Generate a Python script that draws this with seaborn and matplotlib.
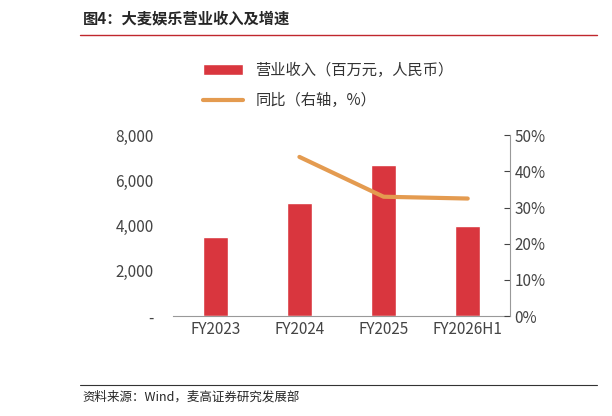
import matplotlib
matplotlib.use("Agg")
import matplotlib.pyplot as plt
import seaborn as sns
import pandas as pd
from matplotlib.ticker import FuncFormatter

sns.set_style("white")
plt.rcParams['font.family'] = ['Noto Sans CJK SC', 'DejaVu Sans']

categories = ["FY2023", "FY2024", "FY2025", "FY2026H1"]
revenue = [3500, 5000, 6700, 4000]
yoy_cats = ["FY2024", "FY2025", "FY2026H1"]
yoy = [44.0, 33.0, 32.5]

fig = plt.figure(figsize=(6.12, 4.16), dpi=100)
ax = fig.add_axes([0.283, 0.24, 0.55, 0.435])
df = pd.DataFrame({"cat": categories, "rev": revenue})
sns.barplot(data=df, x="cat", y="rev", ax=ax, color="#d9363e", width=0.3, saturation=1,
            label="营业收入（百万元，人民币）")
ax.set_ylim(0, 8000)
ax.set_yticks([0, 2000, 4000, 6000, 8000])
ax.yaxis.set_major_formatter(FuncFormatter(lambda v, p: "-" if v == 0 else f"{v:,.0f}"))
ax.set_xlabel(""); ax.set_ylabel("")
for s in ["top", "right", "left"]:
    ax.spines[s].set_visible(False)
ax.spines["bottom"].set_color("#999999")
ax.tick_params(axis="both", colors="#444444", labelsize=11, length=0)
ax.tick_params(axis="y", pad=14)

ax2 = ax.twinx()
xpos = [categories.index(c) for c in yoy_cats]
sns.lineplot(x=xpos, y=yoy, ax=ax2, color="#e49b50", linewidth=3, label="同比（右轴，%）")
ax2.set_ylim(0, 50)
ax2.set_yticks(range(0, 51, 10))
ax2.yaxis.set_major_formatter(FuncFormatter(lambda v, p: f"{v:.0f}%"))
for s in ["top", "left", "bottom"]:
    ax2.spines[s].set_visible(False)
ax2.spines["right"].set_color("#999999")
ax2.tick_params(axis="y", colors="#444444", labelsize=11, length=4, direction="in")
ax2.set_ylabel("")
ax.set_xlim(-0.5, 3.5)

h1, l1 = ax.get_legend_handles_labels()
h2, l2 = ax2.get_legend_handles_labels()
if ax.get_legend() is not None:
    ax.get_legend().remove()
if ax2.get_legend() is not None:
    ax2.get_legend().remove()
fig.legend(h1 + h2, l1 + l2, loc="upper left", bbox_to_anchor=(0.31, 0.885), frameon=False,
           fontsize=11, labelcolor="#333333", handlelength=2.6, labelspacing=0.9)

fig.text(0.135, 0.955, "图4：大麦娱乐营业收入及增速", fontsize=11, fontweight="bold", va="center")
fig.add_artist(plt.Line2D([0.13, 0.975], [0.915, 0.915], color="#c0272d", lw=1))
fig.add_artist(plt.Line2D([0.13, 0.975], [0.075, 0.075], color="#333333", lw=0.8))
fig.text(0.135, 0.045, "资料来源：Wind，麦高证券研究发展部", fontsize=9, va="center")
fig.savefig("out.png", dpi=100)
